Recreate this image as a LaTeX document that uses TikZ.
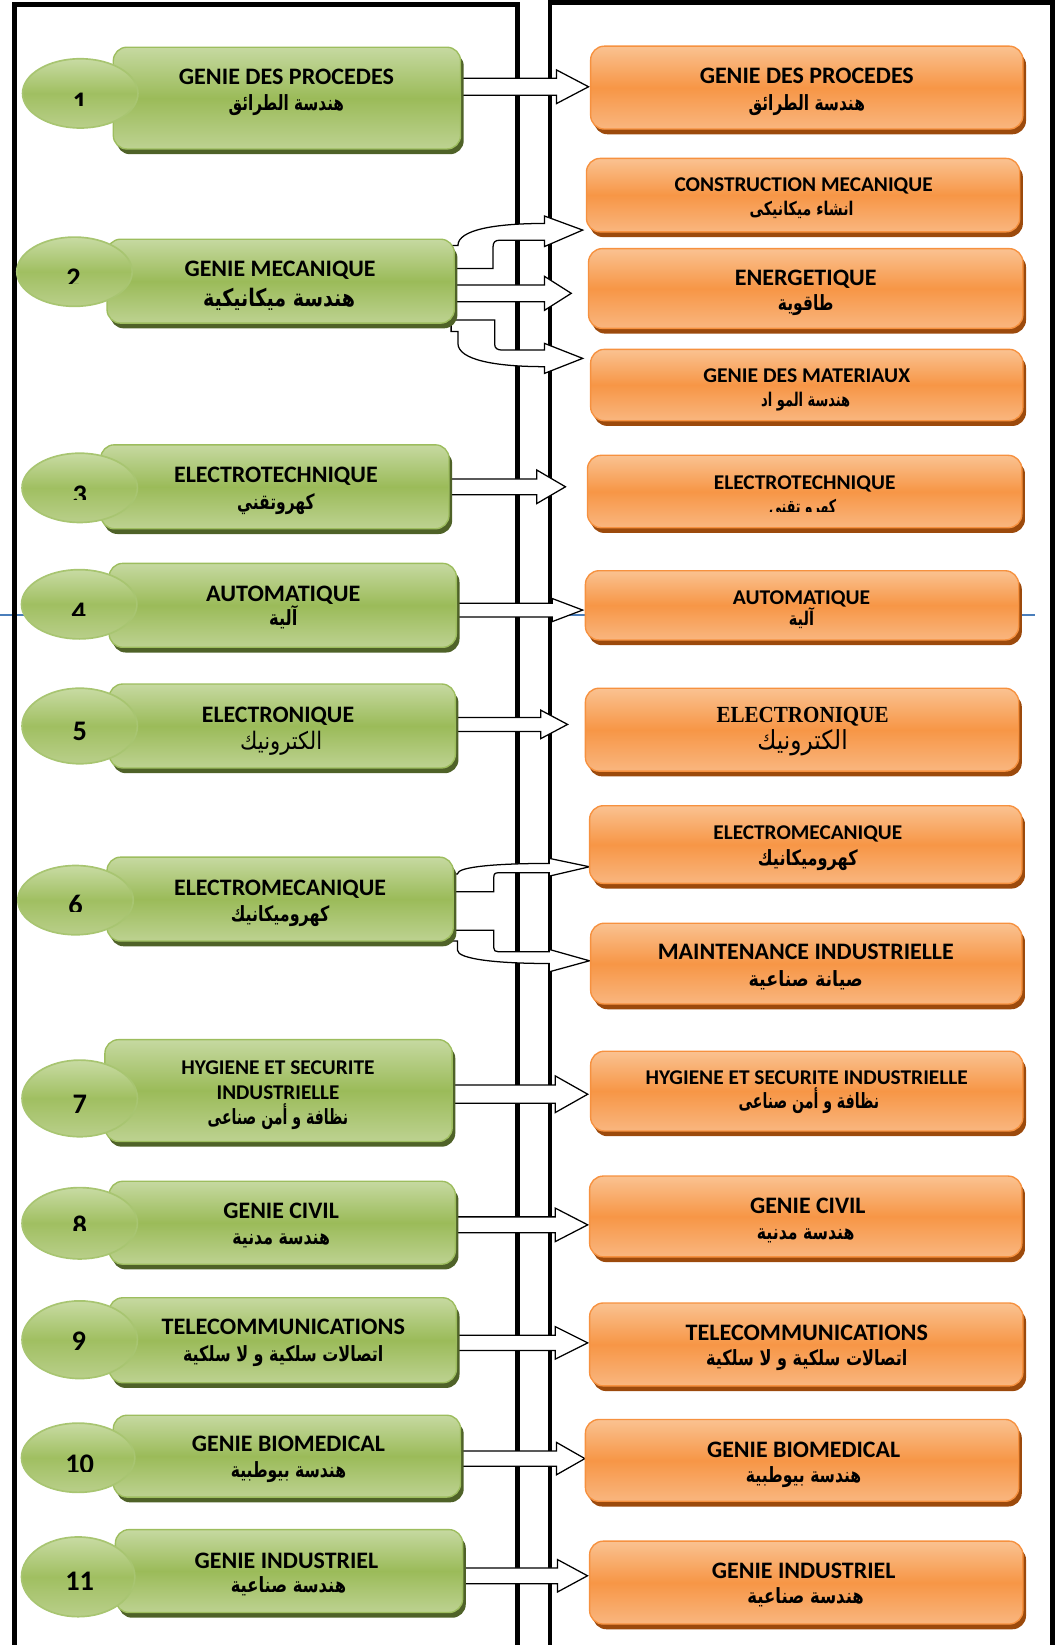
\documentclass[tikz,border=0pt]{standalone}
\usepackage{fontspec}
\setmainfont{Carlito}
\newfontfamily\arfont[Script=Arabic]{DejaVu Sans}
\newfontfamily\tnr{Liberation Serif}
\usetikzlibrary{shapes.geometric,shadows,calc}
\TeXXeTstate=1
\pgfdeclarelayer{bg}\pgfsetlayers{bg,main}
\definecolor{gtop}{HTML}{C6D9A1}
\definecolor{gmid}{HTML}{9BBB59}
\definecolor{gbot}{HTML}{BDD291}
\definecolor{gborder}{HTML}{9DBD5E}
\definecolor{gshadow}{HTML}{4F6228}
\definecolor{getop}{HTML}{C8DBA3}
\definecolor{gemid}{HTML}{A0BF61}
\definecolor{gebot}{HTML}{B9CF8A}
\definecolor{geborder}{HTML}{A8C571}
\definecolor{otop}{HTML}{FAC291}
\definecolor{omid}{HTML}{F79646}
\definecolor{obot}{HTML}{F9B67F}
\definecolor{oborder}{HTML}{F6913F}
\definecolor{oshadow}{HTML}{9C4A0C}
\definecolor{lineblue}{HTML}{4A7EBB}
\newcommand\LT[3]{{\fontsize{#2pt}{#2pt}\selectfont\bfseries\resizebox{#1pt}{\height}{#3}}}
\newcommand\AR[3]{{\fontsize{#2pt}{#2pt}\arfont\bfseries\resizebox{#1pt}{\height}{#3}}}
\newcommand\ARr[3]{{\fontsize{#2pt}{#2pt}\arfont\resizebox{#1pt}{\height}{#3}}}
\tikzset{
 gbox/.style={draw=gborder, line width=1.3pt, rounded corners=13pt, top color=gtop, bottom color=gbot, middle color=gmid, drop shadow={shadow xshift=3pt, shadow yshift=-5pt, opacity=1, fill=gshadow}, inner sep=0pt},
 obox/.style={draw=oborder, line width=1.3pt, rounded corners=13pt, top color=otop, bottom color=obot, middle color=omid, drop shadow={shadow xshift=3pt, shadow yshift=-5pt, opacity=1, fill=oshadow}, inner sep=0pt},
 gell/.style={ellipse, draw=geborder, line width=1.6pt, top color=getop, bottom color=gebot, middle color=gemid, inner sep=0pt},
 txt/.style={anchor=base, inner sep=0pt, outer sep=0pt},
 numtxt/.style={anchor=base, inner sep=0pt, outer sep=0pt, font=\fontsize{27pt}{27pt}\selectfont\bfseries},
 barrow/.style={draw=black, fill=white, line width=1.2pt, line join=miter},
 frameline/.style={draw=black, line width=4.8pt},
 blueline/.style={draw=lineblue, line width=2.2pt}
}
\newcommand\gb[5]{\node[gbox,minimum width=#4pt,minimum height=#5pt] (#1) at (#2,#3) {};}
\newcommand\ob[5]{\node[obox,minimum width=#4pt,minimum height=#5pt] (#1) at (#2,#3) {};}
\newcommand\el[5]{\node[gell,minimum width=#4pt,minimum height=#5pt] (#1) at (#2,#3) {};}
\newcommand\cnum[5]{\begin{scope}\clip (#2-30,#3-35) rectangle (#2+30,#4);\node[numtxt] (#1) at (#2,#3) {#5};\end{scope}}
\newcommand\sarrow[5]{\draw[barrow] let \p1=(#1.east), \p2=(#2) in (\x1-2pt,\y2+#3pt) -- (\x2-#5pt,\y2+#3pt) -- (\x2-#5pt,\y2+#4pt) -- (\p2) -- (\x2-#5pt,\y2-#4pt) -- (\x2-#5pt,\y2-#3pt) -- (\x1-2pt,\y2-#3pt) -- cycle;}
\begin{document}
\begin{tikzpicture}[x=1pt,y=-1pt]
\useasboundingbox (0,0) rectangle (1014,1568);
% ---------- left green boxes
\gb{g1}{273.5}{93.5}{331}{97}
\gb{g2}{267.5}{268}{331}{80}
\gb{g3}{262}{464}{332}{80}
\gb{g4}{269.5}{577}{331}{80}
\gb{g5}{269}{692}{330}{80}
\gb{g6}{267}{857}{330}{80}
\gb{g7}{265.5}{1039.5}{331}{97}
\gb{g8}{269}{1165.5}{330}{79}
\gb{g9}{269.5}{1277.5}{331}{81}
\gb{g10}{273.5}{1388}{331}{78}
\gb{g11}{275.5}{1497.5}{331}{79}
% ---------- ellipses
\el{e1}{76.5}{89}{110}{66}
\el{e2}{71}{259}{110}{66}
\el{e3}{76}{465}{110}{66}
\el{e4}{75.5}{576}{110}{66}
\el{e5}{76}{692}{110}{72}
\el{e6}{72}{858}{110}{66}
\el{e7}{76}{1047}{110}{73}
\el{e8}{76}{1166}{110}{68}
\el{e9}{76}{1277}{110}{74}
\el{e10}{74.5}{1389.5}{108}{66}
\el{e11}{74.5}{1503}{108}{76}
% ---------- numbers
\cnum{n1}{76}{106.5}{101}{1}
\cnum{n2}{70}{274.5}{270}{2}
\cnum{n3}{76}{481}{476}{3}
\cnum{n4}{75}{592.5}{587}{4}
\node[numtxt] (n5) at (76,705.5) {5};
\cnum{n6}{72}{871.5}{869}{6}
\node[numtxt] (n7) at (76,1061) {7};
\cnum{n8}{76}{1177.5}{1173}{8}
\node[numtxt] (n9) at (75,1287) {9};
\cnum{n10}{76}{1404.5}{1403}{10}
\node[numtxt] (n11) at (76,1516) {11};
% ---------- green texts
\node[txt] (g1a) at (273,81) {\LT{205}{22.5}{GENIE DES PROCEDES}};
\node[txt] (g1b) at (273,105) {\AR{110}{20}{\beginR هندسة الطرائق\endR}};
\node[txt] (g2a) at (267,264) {\LT{182}{22.5}{GENIE MECANIQUE}};
\node[txt] (g2b) at (266,292) {\AR{145}{23}{\beginR هندسة ميكانيكية\endR}};
\node[txt] (g3a) at (263,460) {\LT{194}{22.5}{ELECTROTECHNIQUE}};
\node[txt] (g3b) at (263,486) {\AR{74}{20}{\beginR كهروتقني\endR}};
\node[txt] (g4a) at (270,573) {\LT{147}{22.5}{AUTOMATIQUE}};
\node[txt] (g4b) at (270,596) {\AR{27}{20}{\beginR آلية\endR}};
\node[txt] (g5a) at (265,689) {\LT{145}{22.5}{ELECTRONIQUE}};
\node[txt] (g5b) at (268,714) {\ARr{78}{23}{\beginR الكترونيك\endR}};
\node[txt] (g6a) at (267,854) {\LT{202}{22.5}{ELECTROMECANIQUE}};
\node[txt] (g6b) at (267,878) {\AR{94}{20}{\beginR كهروميكانيك\endR}};
\node[txt] (g7a) at (265,1024) {\LT{184}{20}{HYGIENE ET SECURITE}};
\node[txt] (g7b) at (265,1048) {\LT{117}{20}{INDUSTRIELLE}};
\node[txt] (g7c) at (265,1072) {\AR{134}{20}{\beginR نظافة و أمن صناعى\endR}};
\node[txt] (g8a) at (268,1161) {\LT{110}{22.5}{GENIE CIVIL}};
\node[txt] (g8b) at (268,1186) {\AR{93}{20}{\beginR هندسة مدنية\endR}};
\node[txt] (g9a) at (270,1272) {\LT{232}{22.5}{TELECOMMUNICATIONS}};
\node[txt] (g9b) at (270,1298) {\AR{191}{20}{\beginR اتصالات سلكية و لا سلكية\endR}};
\node[txt] (g10a) at (275,1384) {\LT{184}{22.5}{GENIE BIOMEDICAL}};
\node[txt] (g10b) at (275,1408) {\AR{110}{20}{\beginR هندسة بيوطبية\endR}};
\node[txt] (g11a) at (273,1495) {\LT{175}{22.5}{GENIE INDUSTRIEL}};
\node[txt] (g11b) at (275,1518) {\AR{110}{20}{\beginR هندسة صناعية\endR}};
% ---------- right orange boxes
\ob{o1}{769}{83.5}{412}{79}
\ob{o2a}{765.5}{186}{413}{70}
\ob{o2b}{768}{275}{414}{76}
\ob{o2c}{769}{367}{412}{68}
\ob{o3}{767}{468.5}{414}{69}
\ob{o4}{764.5}{577}{413}{66}
\ob{o5}{764.5}{695.5}{413}{79}
\ob{o6a}{768}{805}{412}{74}
\ob{o6b}{768.5}{918.5}{411}{77}
\ob{o7}{769}{1040}{412}{76}
\ob{o8}{768}{1159.5}{412}{77}
\ob{o9}{768.5}{1281.5}{413}{79}
\ob{o10}{764.5}{1392}{413}{78}
\ob{o11}{768.5}{1508.5}{413}{79}
% ---------- orange texts
\node[txt] (o1a) at (769,80) {\LT{204}{22.5}{GENIE DES PROCEDES}};
\node[txt] (o1b) at (769,105) {\AR{111}{20}{\beginR هندسة الطرائق\endR}};
\node[txt] (o2aa) at (766,183) {\LT{246}{20}{CONSTRUCTION MECANIQUE}};
\node[txt] (o2ab) at (764,205) {\AR{99}{18}{\beginR انشاء ميكانيكى\endR}};
\node[txt] (o2ba) at (768,272) {\LT{135}{22.5}{ENERGETIQUE}};
\node[txt] (o2bb) at (768,296) {\AR{53}{20}{\beginR طاقوية\endR}};
\node[txt] (o2ca) at (769,365) {\LT{197}{20}{GENIE DES MATERIAUX}};
\node[txt] (o2cb) at (768,387) {\AR{85}{18}{\beginR هندسة المو اد\endR}};
\node[txt] (o3a) at (767,467) {\LT{173}{20}{ELECTROTECHNIQUE}};
\begin{scope}\clip (700,470) rectangle (830,487.5);
\node[txt] (o3b) at (765,489) {\AR{64}{18}{\beginR كهرو تقنى\endR}};
\end{scope}
\node[txt] (o4a) at (764,576) {\LT{131}{20}{AUTOMATIQUE}};
\node[txt] (o4b) at (764,596) {\AR{24}{18}{\beginR آلية\endR}};
\node[txt] (o5a) at (765,689) {{\fontsize{22pt}{22pt}\tnr\bfseries\resizebox{164pt}{\height}{ELECTRONIQUE}}};
\node[txt] (o5b) at (765,714) {\ARr{86}{25}{\beginR الكترونيك\endR}};
\node[txt] (o6aa) at (770,800) {\LT{180}{20}{ELECTROMECANIQUE}};
\node[txt] (o6ab) at (770,825) {\AR{95}{20}{\beginR كهروميكانيك\endR}};
\node[txt] (o6ba) at (768,915) {\LT{282}{22.5}{MAINTENANCE INDUSTRIELLE}};
\node[txt] (o6bb) at (768,940) {\AR{109}{20}{\beginR صيانة صناعية\endR}};
\node[txt] (o7a) at (769,1034) {\LT{307}{20}{HYGIENE ET SECURITE INDUSTRIELLE}};
\node[txt] (o7b) at (771,1057) {\AR{134}{20}{\beginR نظافة و أمن صناعى\endR}};
\node[txt] (o8a) at (770,1157) {\LT{110}{22.5}{GENIE CIVIL}};
\node[txt] (o8b) at (768,1181) {\AR{93}{20}{\beginR هندسة مدنية\endR}};
\node[txt] (o9a) at (769,1278) {\LT{231}{22.5}{TELECOMMUNICATIONS}};
\node[txt] (o9b) at (769,1302) {\AR{192}{20}{\beginR اتصالات سلكية و لا سلكية\endR}};
\node[txt] (o10a) at (766,1389) {\LT{184}{22.5}{GENIE BIOMEDICAL}};
\node[txt] (o10b) at (766,1413) {\AR{110}{20}{\beginR هندسة بيوطبية\endR}};
\node[txt] (o11a) at (766,1505) {\LT{175}{22.5}{GENIE INDUSTRIEL}};
\node[txt] (o11b) at (768,1528) {\AR{111}{20}{\beginR هندسة صناعية\endR}};
% ---------- arrow tips
\coordinate (t1) at (561,82.7);
\coordinate (t2b) at (544.5,279.6);
\coordinate (t3) at (539,464);
\coordinate (t4) at (555.4,581.5);
\coordinate (t5) at (541,690.5);
\coordinate (t7) at (560.2,1043);
\coordinate (t8) at (560.2,1167.5);
\coordinate (t9) at (560.2,1280);
\coordinate (t10) at (557.5,1390.3);
\coordinate (t11) at (560,1502);
\begin{pgfonlayer}{bg}
\draw[blueline] (0,586.3) -- (986.6,586.3);
\draw[frameline] (13.6,1600) -- (13.6,4) -- (493.2,4) -- (493.2,1600);
\draw[frameline,line width=4.4pt] (524.3,1600) -- (524.3,2.4) -- (1003.5,2.4) -- (1003.5,1600);
\sarrow{g1}{t1}{8}{16}{30.5}
\sarrow{g2}{t2b}{8}{16.2}{25.5}
\sarrow{g3}{t3}{7.5}{16}{27.4}
\sarrow{g4}{t4}{6.5}{11}{29}
\sarrow{g5}{t5}{6.7}{13.6}{25.6}
\sarrow{g7}{t7}{8.7}{17.5}{31}
\sarrow{g8}{t8}{7.6}{16}{31}
\sarrow{g9}{t9}{7.2}{15.5}{31}
\sarrow{g10}{t10}{7.2}{15.4}{27}
\sarrow{g11}{t11}{7.5}{15.4}{28.5}
% curved arrows of group 2
\draw[barrow] (430,256) -- (470,256) -- (470,235) .. controls (470,231) and (472,229) .. (476,229) -- (519,229) -- (519,235) -- (555.4,219.3) -- (519,205.9) -- (519,213) .. controls (472,213) and (436.5,219) .. (436.5,234) -- (430,234) -- cycle;
\draw[barrow] (430,305) -- (471.5,305) -- (471.5,328) .. controls (471.5,332) and (474,333.7) .. (479,333.7) -- (519,333.7) -- (519,327.3) -- (555.4,341.6) -- (519,355.9) -- (519,349.5) .. controls (472,349.5) and (436.5,343) .. (436.5,327.3) -- (436.5,316) -- (430,316) -- cycle;
% curved arrows of group 6
\draw[barrow] (430,850) -- (470.7,850) -- (470.7,836) .. controls (470.7,833) and (472,831.9) .. (475,831.9) -- (523.6,831.9) -- (523.6,835.1) -- (561.9,826.2) -- (523.6,818.2) -- (523.6,823) .. controls (475,823) and (436,826) .. (436,833) -- (430,833) -- cycle;
\draw[barrow] (430,886.6) -- (470.7,886.6) -- (470.7,903.5) .. controls (470.7,906) and (472,907.2) .. (475,907.2) -- (523.6,907.2) -- (523.6,905) -- (561.9,915.8) -- (523.6,926.3) -- (523.6,918.4) .. controls (472,918.4) and (436,914) .. (436,905.6) -- (436,897) -- (430,897) -- cycle;
\end{pgfonlayer}
\end{tikzpicture}
\end{document}
